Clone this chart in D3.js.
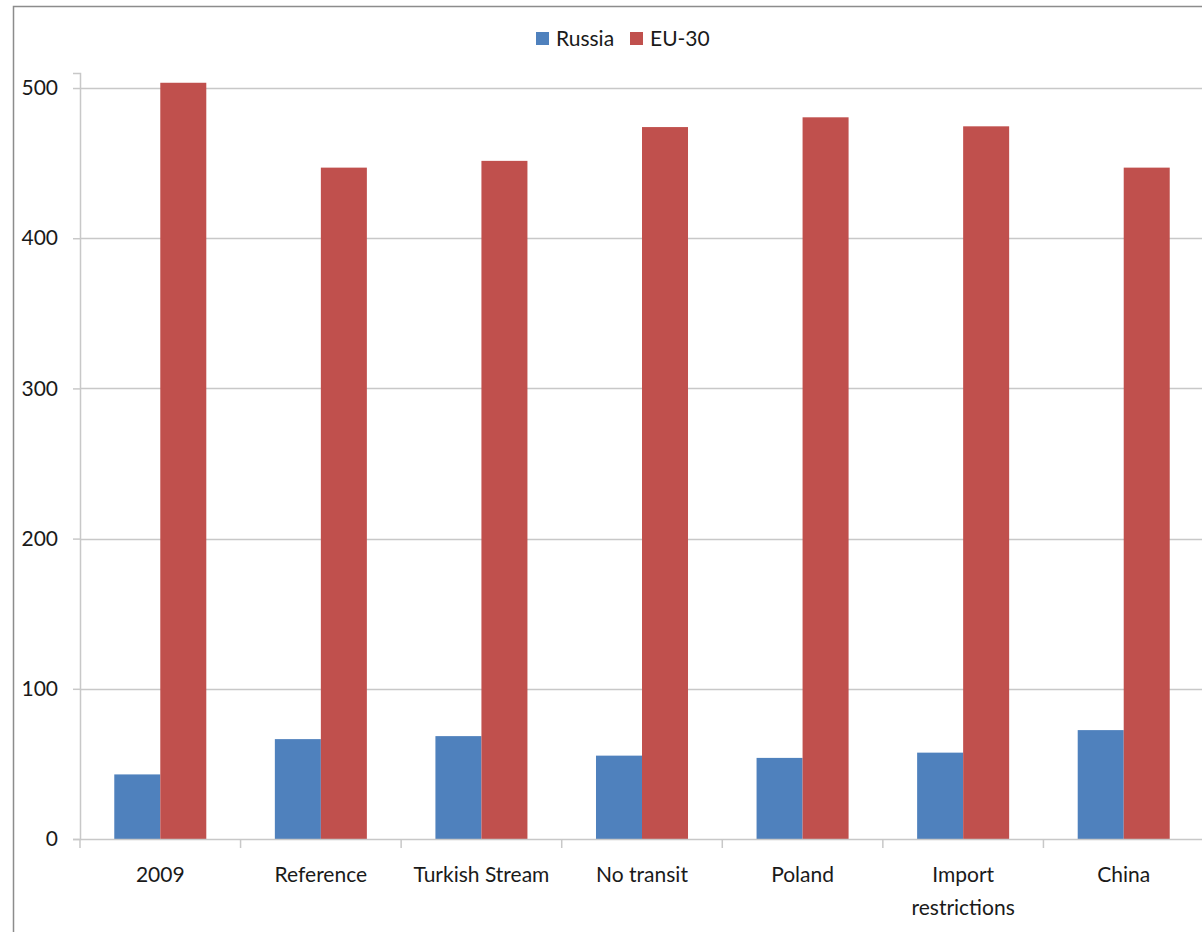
<!DOCTYPE html>
<html>
<head>
<meta charset="utf-8">
<script src="https://cdn.jsdelivr.net/npm/d3@7"></script>
<style>
  body { margin: 0; background: #fff; }
  svg text { font-family: Lato, "Open Sans", sans-serif; fill: #1a1a1a; }
</style>
</head>
<body>
<div id="chart"></div>
<script>
const width = 1202,
height = 932;

const categories = ["2009", "Reference", "Turkish Stream", "No transit", "Poland", "Import restrictions", "China"]
const seriesNames = ["Russia", "EU-30"]
const russia = [43, 66.5, 68.5, 55.5, 54, 57.5, 72.5]
const eu30 = [503.5, 447, 451.5, 474, 480.5, 474.5, 447]
const yTicks = [0, 100, 200, 300, 400, 500]

const colors = ["#4f81bd", "#c0504d"]

const margin = {top: 73, right: -2, bottom: 93, left: 80}
const innerW = width - margin.left - margin.right,
innerH = height - margin.top - margin.bottom;

const svg = d3.select("#chart")
            .append("svg")
            .attr("width", width)
            .attr("height", height)

// outer frame
svg.append("rect")
  .attr("x", 13.5).attr("y", 6.5)
  .attr("width", width + 20).attr("height", height + 20)
  .attr("fill", "none")
  .attr("stroke", "#8c8c8c")
  .attr("stroke-width", 1.5)

const g = svg.append("g")
            .attr("transform", `translate(${margin.left},${margin.top})`);

const x = d3.scaleBand()
            .domain(categories)
            .range([0, innerW])

const x1 = d3.scaleBand()
            .domain(seriesNames)
            .range([0, x.bandwidth()])
            .paddingOuter(0.745)

const y = d3.scaleLinear()
            .domain([0, 510])
            .range([innerH, 0])

// gridlines
g.selectAll("line.grid")
  .data(yTicks.filter(d => d > 0))
  .join("line")
  .attr("class", "grid")
  .attr("x1", 0).attr("x2", innerW)
  .attr("y1", d => Math.round(y(d)) + 0.5)
  .attr("y2", d => Math.round(y(d)) + 0.5)
  .attr("stroke", "#c8c8c8")
  .attr("stroke-width", 1.5)

// bars
const data = categories.map((c, i) => ({cat: c, values: [russia[i], eu30[i]]}))

g.selectAll("g.group")
  .data(data)
  .join("g")
  .attr("class", "group")
  .attr("transform", d => `translate(${x(d.cat)},0)`)
  .selectAll("rect")
  .data(d => d.values.map((v, j) => ({name: seriesNames[j], value: v, color: colors[j]})))
  .join("rect")
  .attr("x", d => x1(d.name))
  .attr("width", x1.bandwidth())
  .attr("y", d => y(d.value))
  .attr("height", d => innerH - y(d.value))
  .attr("fill", d => d.color)

// y axis
const yAxis = g.append("g")
  .call(d3.axisLeft(y).tickValues(yTicks).tickSize(7).tickPadding(15))
yAxis.select(".domain").attr("stroke", "#c8c8c8").attr("stroke-width", 1.5)
yAxis.selectAll(".tick line").attr("stroke", "#c8c8c8").attr("stroke-width", 1.5)
yAxis.selectAll(".tick text").style("font-size", "21px").attr("fill", "#1a1a1a")

// x axis
const xAxis = g.append("g")
  .attr("transform", `translate(0,${innerH})`)
  .call(d3.axisBottom(x).tickSize(0).tickPadding(0))
xAxis.select(".domain").attr("stroke", "#c8c8c8").attr("stroke-width", 1.5)
xAxis.selectAll(".tick text").remove()

// category boundary ticks
xAxis.selectAll("line.sep")
  .data(categories)
  .join("line")
  .attr("class", "sep")
  .attr("x1", d => x(d)).attr("x2", d => x(d))
  .attr("y1", 0).attr("y2", 9)
  .attr("stroke", "#c8c8c8")
  .attr("stroke-width", 1.5)

// category labels, wrapped like Excel does
const wrap = {"Import restrictions": ["Import", "restrictions"]}
xAxis.selectAll("text.cat")
  .data(categories)
  .join("text")
  .attr("class", "cat")
  .attr("text-anchor", "middle")
  .attr("y", 43)
  .style("font-size", "21px")
  .each(function(d) {
    const lines = wrap[d] || [d]
    d3.select(this).selectAll("tspan")
      .data(lines)
      .join("tspan")
      .attr("x", x(d) + x.bandwidth() / 2)
      .attr("dy", (l, i) => i === 0 ? 0 : 33)
      .text(l => l)
  })

// legend
const legend = svg.append("g").attr("transform", "translate(536,32)")
const items = legend.selectAll("g")
  .data(seriesNames)
  .join("g")
  .attr("transform", (d, i) => `translate(${i * 94},0)`)
items.append("rect")
  .attr("width", 13).attr("height", 13)
  .attr("fill", (d, i) => colors[i])
items.append("text")
  .attr("x", 20).attr("y", 14)
  .style("font-size", "21px")
  .text(d => d)
</script>
</body>
</html>
